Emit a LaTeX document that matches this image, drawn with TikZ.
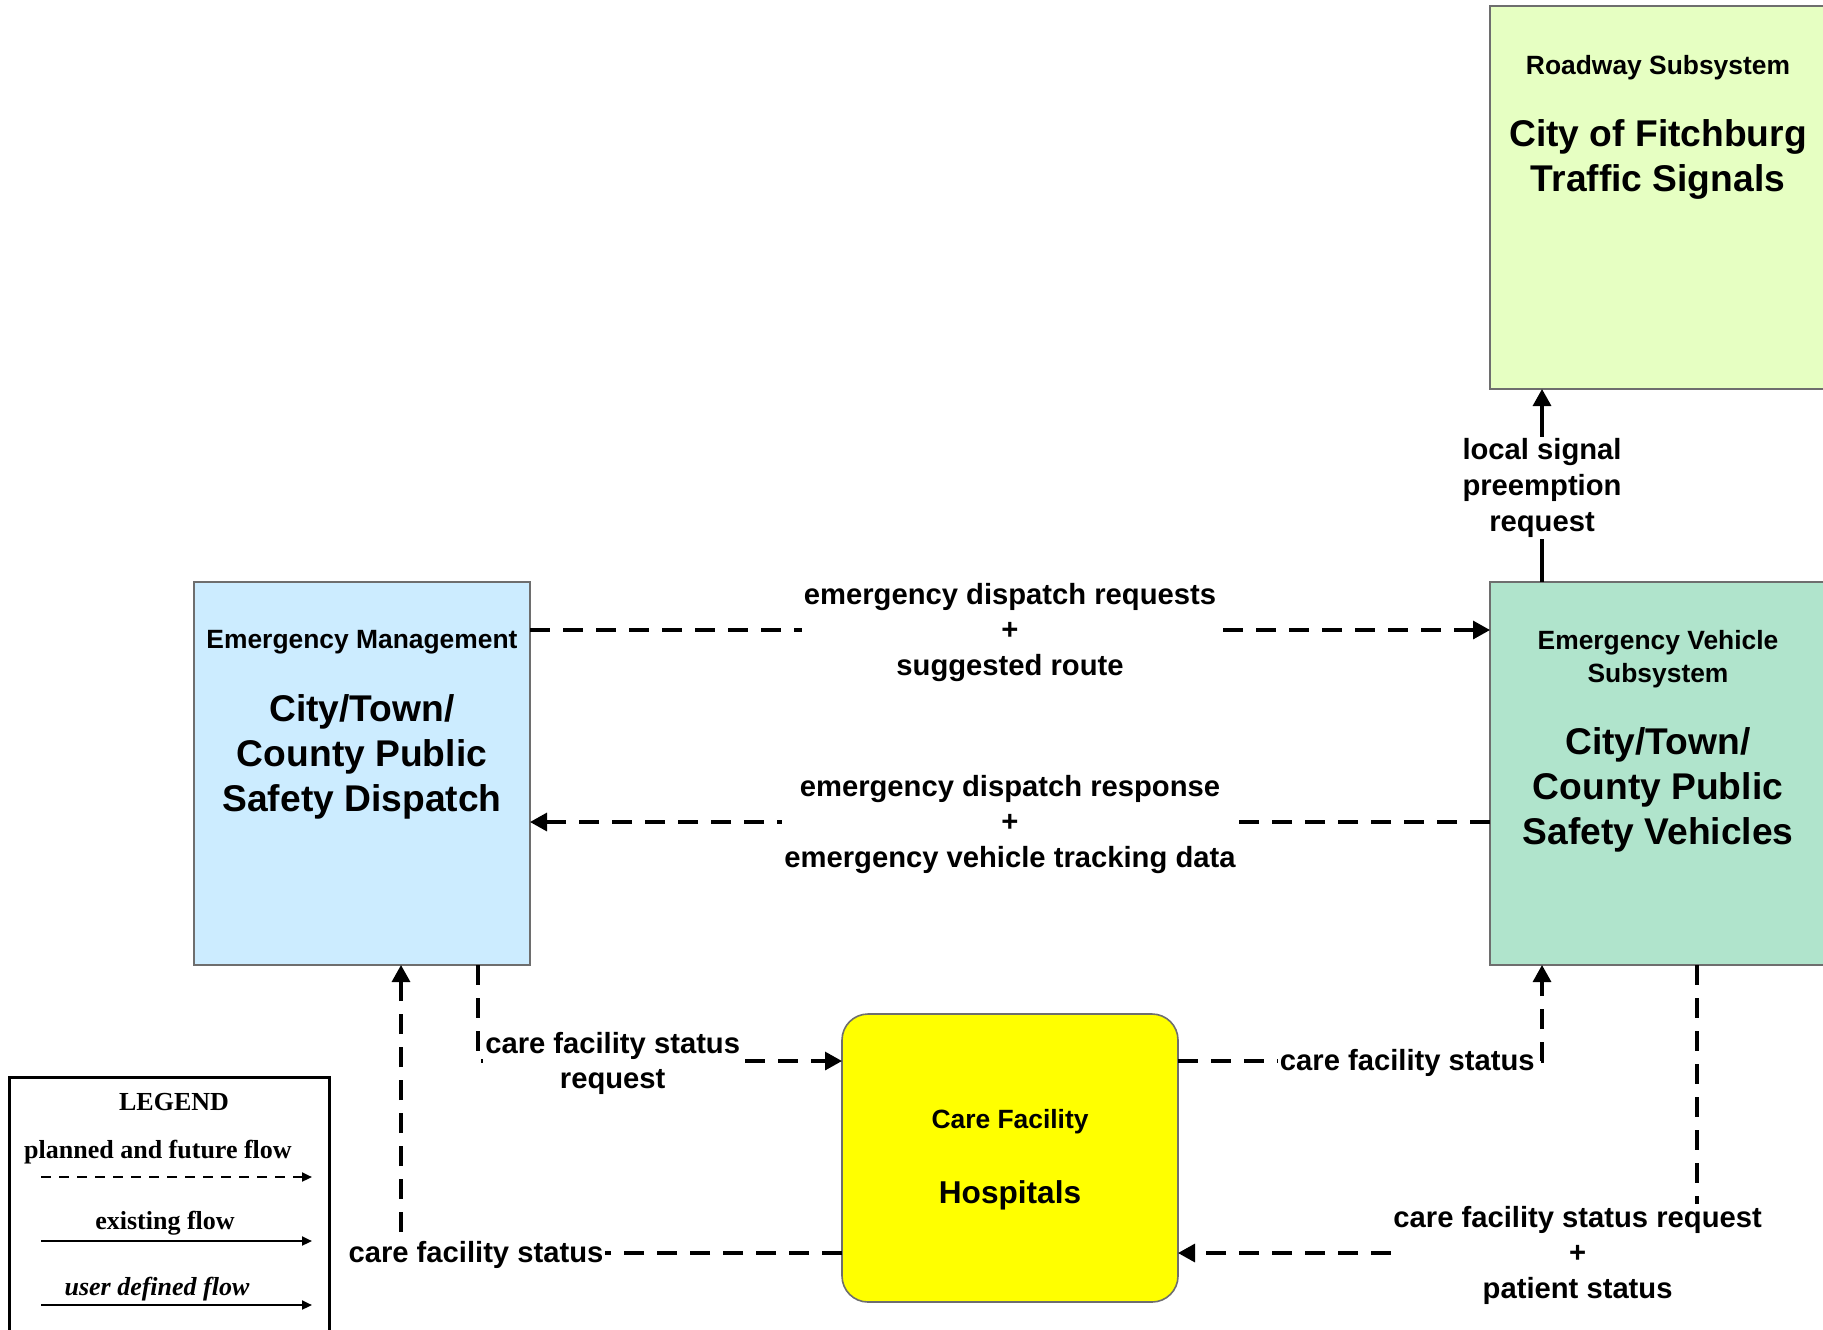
\documentclass[tikz,border=0pt]{standalone}
\usepackage{fontspec}
\setmainfont{Liberation Sans}
\newfontfamily\legendfont{Liberation Serif}
\usetikzlibrary{calc,arrows.meta}

\definecolor{dispatchblue}{RGB}{204,236,255}
\definecolor{roadgreen}{RGB}{230,255,194}
\definecolor{vehiclegreen}{RGB}{176,228,204}
\definecolor{careyellow}{RGB}{255,255,0}
\definecolor{boxgray}{RGB}{110,110,110}

\begin{document}
\begin{tikzpicture}[x=0.5pt,y=-0.5pt,
    sysbox/.style={draw=boxgray, line width=0.8pt, rectangle, minimum width=168pt, minimum height=191.5pt, inner sep=0pt, outer sep=0pt},
    subhead/.style={font=\bfseries\fontsize{13.2}{16.5}\selectfont, align=center, yshift=-1.8pt},
    bigname/.style={font=\bfseries\fontsize{18.6}{22.5}\selectfont, align=center, yshift=-1.8pt},
    flowlbl/.style={fill=white, inner sep=1pt, font=\bfseries\fontsize{14.6}{17.8}\selectfont, align=center, yshift=-1.2pt},
    planned/.style={line width=1.6pt, dash pattern=on 10pt off 6.5pt, -{Triangle[length=8.5pt,width=9pt]}},
    existing/.style={line width=1.6pt, -{Triangle[length=8.5pt,width=9pt]}},
    legtext/.style={font=\legendfont\bfseries\fontsize{13}{15}\selectfont, yshift=-1.2pt}]
  \path[use as bounding box, fill=white] (0,0) rectangle (1823,1329);

  % subsystems
  \node[sysbox, fill=roadgreen] (roadway) at (1658,197.5) {};
  \node[subhead] (roadhead) at (1658,64) {Roadway Subsystem};
  \node[bigname] (roadname) at (1658,155.5) {City of Fitchburg\\Traffic Signals};

  \node[sysbox, fill=dispatchblue] (dispatch) at (362,773.5) {};
  \node[subhead] (disphead) at (362,639) {Emergency Management};
  \node[bigname] (dispname) at (362,753) {City/Town/\\County Public\\Safety Dispatch};

  \node[sysbox, fill=vehiclegreen] (vehicle) at (1658,773.5) {};
  \node[subhead] (vehhead) at (1658,655.5) {Emergency Vehicle\\Subsystem};
  \node[bigname] (vehname) at (1658,786) {City/Town/\\County Public\\Safety Vehicles};

  \node[draw=boxgray, line width=0.8pt, fill=careyellow, rounded corners=13pt, minimum width=168pt, minimum height=144pt, inner sep=0pt, outer sep=0pt] (care) at (1010,1158) {};
  \node[subhead] (carehead) at (1010,1118) {Care Facility};
  \node[font=\bfseries\fontsize{15.8}{19}\selectfont, yshift=-1.8pt] (carename) at (1010,1192) {Hospitals};

  % dispatch <-> vehicles
  \coordinate (rowa) at (0,630);
  \coordinate (rowb) at (0,822);
  \draw[planned] (dispatch.east |- rowa) -- node[flowlbl] {emergency dispatch requests\\+\\suggested route} (vehicle.west |- rowa);
  \draw[planned] (vehicle.west |- rowb) -- node[flowlbl] {emergency dispatch response\\+\\emergency vehicle tracking data} (dispatch.east |- rowb);

  % signal preemption
  \coordinate (sig) at (1542,0);
  \draw[existing] (vehicle.north -| sig) -- node[flowlbl] {local signal\\preemption\\request} (roadway.south -| sig);

  % care facility flows
  \coordinate (ca) at (478,1061);
  \draw[planned] (dispatch.south -| ca) -- (ca) -- node[flowlbl, pos=0.37] {care facility status\\request} (ca -| care.west);
  \coordinate (cb) at (1542,1061);
  \draw[planned] (care.east |- cb) -- node[flowlbl, pos=0.63] {care facility status} (cb) -- (vehicle.south -| cb);
  \coordinate (cc) at (401,1253);
  \draw[planned] (care.west |- cc) -- node[flowlbl, pos=0.83] {care facility status} (cc) -- (dispatch.south -| cc);
  \coordinate (cd) at (1697,1253);
  \draw[planned] (vehicle.south -| cd) -- (cd) -- node[flowlbl, pos=0.23] {care facility status request\\+\\patient status} (cd -| care.east);

  % legend
  \draw[line width=1.5pt] (9,1077) rectangle (329,1345);
  \node[legtext] (legtitle) at (174,1100) {LEGEND};
  \node[legtext] (legplan) at (158,1150) {planned and future flow};
  \coordinate (lpa) at (41,1177);
  \coordinate (lpb) at (312,1177);
  \draw[line width=1pt, dash pattern=on 5pt off 4pt, -{Triangle[length=5pt,width=4.5pt]}] (lpa) -- (lpb);
  \node[legtext] (legexist) at (165,1221) {existing flow};
  \coordinate (lea) at (41,1241);
  \coordinate (leb) at (312,1241);
  \draw[line width=1pt, -{Triangle[length=5pt,width=4.5pt]}] (lea) -- (leb);
  \node[legtext, font=\legendfont\bfseries\itshape\fontsize{13}{15}\selectfont] (leguser) at (157,1287) {user defined flow};
  \coordinate (lua) at (41,1305);
  \coordinate (lub) at (312,1305);
  \draw[line width=1pt, -{Triangle[length=5pt,width=4.5pt]}] (lua) -- (lub);
\end{tikzpicture}
\end{document}
